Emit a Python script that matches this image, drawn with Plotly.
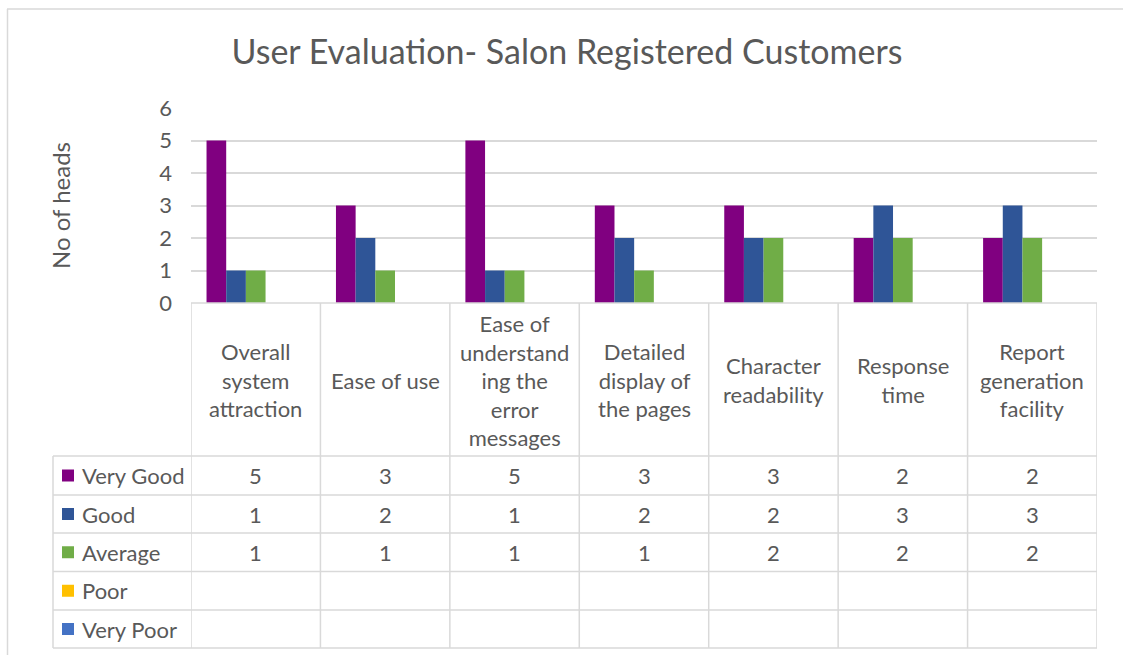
import plotly.graph_objects as go

categories = ["Overall<br>system<br>attraction", "Ease of use",
              "Ease of<br>understand<br>ing the<br>error<br>messages",
              "Detailed<br>display of<br>the pages", "Character<br>readability",
              "Response<br>time", "Report<br>generation<br>facility"]
series_names = ["Very Good", "Good", "Average", "Poor", "Very Poor"]
very_good = [5, 3, 5, 3, 3, 2, 2]
good = [1, 2, 1, 2, 2, 3, 3]
average = [1, 1, 1, 1, 2, 2, 2]
poor = [None] * 7
very_poor = [None] * 7
series_values = [very_good, good, average, poor, very_poor]
colors = ["#800080", "#2F5597", "#70AD47", "#FFC000", "#4472C4"]
y_ticks = [0, 1, 2, 3, 4, 5, 6]

W, H = 1123, 655
L, R, T, B = 191, 1097, 108, 303
FONT = "Lato"
TXT = "#595959"
GRID = "#d9d9d9"

def py(p):
    return (B - p) / (B - T)

def px(p):
    return (p - L) / (R - L)

xs = list(range(len(categories)))
fig = go.Figure()
for name, vals, c in zip(series_names, series_values, colors):
    fig.add_trace(go.Bar(x=xs, y=vals, name=name, marker_color=c,
                         marker_line_width=0, showlegend=False))

shapes = []
ann = []
# chart outer border (top & left)
shapes.append(dict(type="line", xref="paper", yref="paper", x0=px(7), x1=px(1125),
                   y0=py(9), y1=py(9), line=dict(color=GRID, width=1.5)))
shapes.append(dict(type="line", xref="paper", yref="paper", x0=px(7.5), x1=px(7.5),
                   y0=py(9), y1=py(660), line=dict(color=GRID, width=1.5)))

# table geometry
row_lines = [456, 495, 533, 571.5, 610, 648]
table_bottom = 648
shapes.append(dict(type="line", xref="paper", yref="paper", x0=0, x1=1,
                   y0=0, y1=0, line=dict(color=GRID, width=1.5)))
for rl in row_lines:
    shapes.append(dict(type="line", xref="paper", yref="paper", x0=px(53), x1=1,
                       y0=py(rl), y1=py(rl), line=dict(color=GRID, width=1.5)))
for k in range(len(categories) + 1):
    shapes.append(dict(type="line", xref="x", yref="paper", x0=k - 0.5, x1=k - 0.5,
                       y0=0, y1=py(table_bottom), line=dict(color=GRID, width=1.5)))
shapes.append(dict(type="line", xref="paper", yref="paper", x0=px(53), x1=px(53),
                   y0=py(456), y1=py(table_bottom), line=dict(color=GRID, width=1.5)))

# category labels
for i, c in enumerate(categories):
    ann.append(dict(x=i, y=py(380), xref="x", yref="paper", text=c, showarrow=False,
                    font=dict(family=FONT, size=22, color=TXT), align="center",
                    xanchor="center", yanchor="middle"))

# rows
for r, (name, vals, c) in enumerate(zip(series_names, series_values, colors)):
    top = row_lines[r]
    bot = row_lines[r + 1] if r + 1 < len(row_lines) else table_bottom
    cy = (top + bot) / 2
    shapes.append(dict(type="rect", xref="paper", yref="paper", x0=px(62), x1=px(74),
                       y0=py(cy - 6), y1=py(cy + 6), fillcolor=c, line=dict(width=0)))
    ann.append(dict(x=px(80), y=py(cy), xref="paper", yref="paper", text=name,
                    showarrow=False, xanchor="left", yanchor="middle",
                    font=dict(family=FONT, size=22, color=TXT)))
    for i, v in enumerate(vals):
        if v is None:
            continue
        ann.append(dict(x=i, y=py(cy), xref="x", yref="paper", text=str(v),
                        showarrow=False, xanchor="center", yanchor="middle",
                        font=dict(family=FONT, size=22, color=TXT)))

# y-axis title
ann.append(dict(x=px(60), y=py(206), xref="paper", yref="paper", text="No of heads",
                textangle=-90, showarrow=False, xanchor="center", yanchor="middle",
                font=dict(family=FONT, size=24, color=TXT)))

fig.update_layout(
    width=W, height=H,
    margin=dict(l=L, r=W - R, t=T, b=H - B, pad=0),
    paper_bgcolor="white", plot_bgcolor="white",
    barmode="group", bargap=0.24, bargroupgap=0,
    title=dict(text="User Evaluation- Salon Registered Customers",
               x=567 / W, xref="container", xanchor="center",
               y=1 - 52 / H, yref="container", yanchor="middle",
               font=dict(family=FONT, size=34, color=TXT)),
    xaxis=dict(range=[-0.5, len(categories) - 0.5], showticklabels=False,
               showgrid=False, zeroline=False, showline=False, ticks=""),
    yaxis=dict(range=[0, 6], tickvals=y_ticks, showgrid=True, gridcolor=GRID,
               gridwidth=1.5, zeroline=False, showline=False, ticks="",
               ticklabelstandoff=18,
               tickfont=dict(family=FONT, size=22, color=TXT)),
    shapes=shapes, annotations=ann,
)
fig.write_html("out.html", config={"displayModeBar": False},
               post_script="document.body.style.margin='0px';")
